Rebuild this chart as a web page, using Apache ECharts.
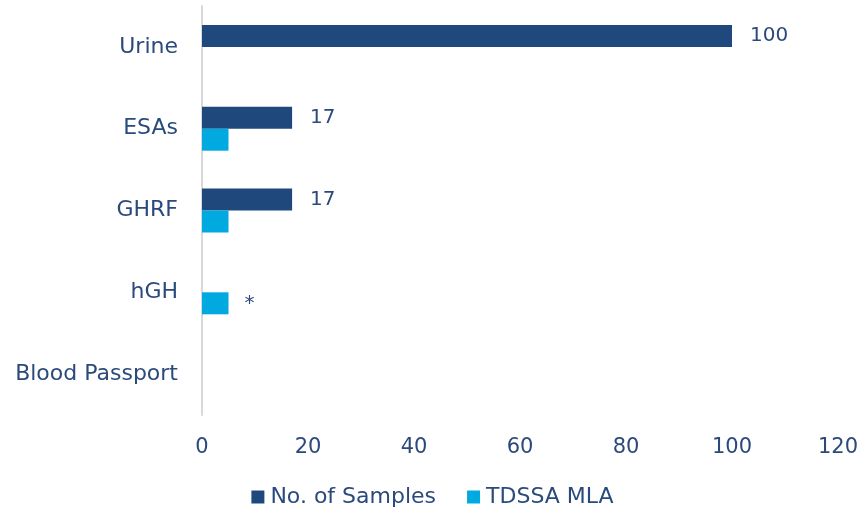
<!DOCTYPE html>
<html>
<head>
<meta charset="utf-8">
<script src="https://cdn.jsdelivr.net/npm/echarts@6/dist/echarts.min.js"></script>
<style>
  html, body { margin: 0; padding: 0; background: #fff; }
  #chart { width: 865px; height: 513px; }
</style>
</head>
<body>
<div id="chart"></div>
<script>
var categories = ['Urine', 'ESAs', 'GHRF', 'hGH', 'Blood Passport'];
var samples = [100, 17, 17, null, null];
var tdssa = [null, 5, 5, 5, null];
var tdssaLabels = ['', '', '', '*', ''];
var xTicks = [0, 20, 40, 60, 80, 100, 120];

var textColor = '#2B4A7C';
var font = 'DejaVu Sans';

var chart = echarts.init(document.getElementById('chart'));
chart.setOption({
  animation: false,
  textStyle: { fontFamily: font },
  grid: { left: 202, right: 27, top: 6, bottom: 98 },
  legend: {
    bottom: 5,
    padding: 0,
    left: 'center',
    itemWidth: 13,
    itemHeight: 13,
    itemGap: 31,
    icon: 'rect',
    textStyle: { color: textColor, fontSize: 22, fontFamily: font, padding: [0, 0, 0, 1] },
    data: ['No. of Samples', 'TDSSA MLA']
  },
  xAxis: {
    type: 'value',
    min: xTicks[0],
    max: xTicks[xTicks.length - 1],
    interval: 20,
    splitLine: { show: false },
    axisLine: { show: false },
    axisTick: { show: false },
    axisLabel: { color: textColor, fontSize: 21, margin: 22 }
  },
  yAxis: {
    type: 'category',
    inverse: true,
    data: categories,
    axisLine: { show: true, lineStyle: { color: '#D9D9D9', width: 2 } },
    axisTick: { show: false },
    axisLabel: { color: textColor, fontSize: 22, margin: 24 }
  },
  series: [
    {
      name: 'No. of Samples',
      type: 'bar',
      data: samples,
      barWidth: 22,
      barGap: '0%',
      itemStyle: { color: '#1F497D' },
      label: {
        show: true,
        position: 'right',
        distance: 18,
        color: textColor,
        fontSize: 20
      }
    },
    {
      name: 'TDSSA MLA',
      type: 'bar',
      data: tdssa,
      barWidth: 22,
      barGap: '0%',
      itemStyle: { color: '#00A9E0' },
      label: {
        show: true,
        position: 'right',
        distance: 16,
        color: textColor,
        fontSize: 20,
        formatter: function (p) { return tdssaLabels[p.dataIndex]; }
      }
    }
  ]
});
</script>
</body>
</html>
